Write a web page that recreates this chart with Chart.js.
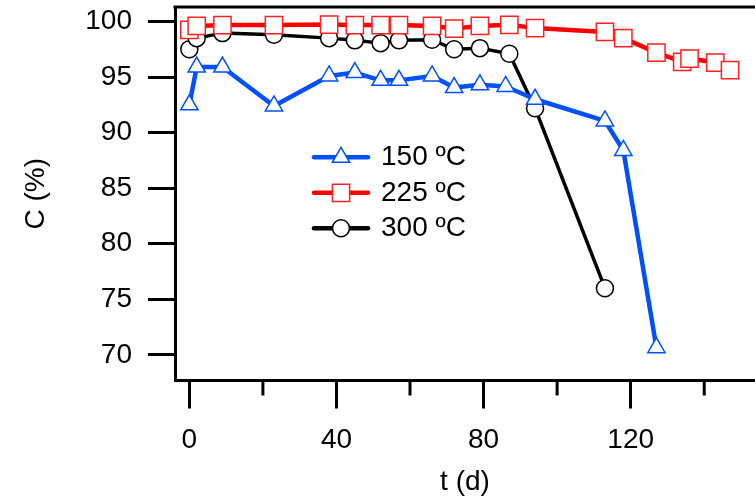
<!DOCTYPE html>
<html>
<head>
<meta charset="utf-8">
<script src="https://cdn.jsdelivr.net/npm/chart.js@4/dist/chart.umd.min.js"></script>
<style>
  html, body { margin: 0; padding: 0; background: #fff; }
</style>
</head>
<body>
<canvas id="convChart" width="755" height="499"></canvas>
<script>
// values
const seriesLabels = ['150 ºC', '225 ºC', '300 ºC'];

const days150 = [0, 2, 9, 23, 38, 45, 52, 57, 66, 72, 79, 86, 94, 113, 118, 127];
const conv150 = [92.5, 95.9, 95.9, 92.4, 95.1, 95.4, 94.7, 94.7, 95.1, 94.05, 94.3, 94.15, 93.0, 91.05, 88.4, 70.65];

const days225 = [0, 2, 9, 23, 38, 45, 52, 57, 66, 72, 79, 87, 94, 113, 118, 127, 134, 136, 143, 147];
const conv225 = [99.25, 99.6, 99.67, 99.67, 99.72, 99.67, 99.67, 99.67, 99.6, 99.36, 99.6, 99.7, 99.4, 99.06, 98.5, 97.2, 96.37, 96.66, 96.3, 95.62];

const days300 = [0, 2, 9, 23, 38, 45, 52, 57, 66, 72, 79, 87, 94, 113];
const conv300 = [97.5, 98.5, 98.95, 98.8, 98.5, 98.3, 98.05, 98.3, 98.35, 97.5, 97.6, 97.1, 92.2, 76.0];

const xTickValues = [0, 40, 80, 120];
const xMinorTicks = [20, 60, 100, 140];
const yTickValues = [70, 75, 80, 85, 90, 95, 100];

const FONT = '"Liberation Sans", Arial, Helvetica, sans-serif';
Chart.defaults.font.family = FONT;
Chart.defaults.font.size = 28;
Chart.defaults.color = '#000';

const toXY = (xs, ys) => xs.map((x, i) => ({ x: x, y: ys[i] }));

// frame top line, minor x ticks, legend inside the plot
const extras = {
  id: 'extras',
  afterDraw(chart) {
    const ctx = chart.ctx;
    const area = chart.chartArea;
    const xs = chart.scales.x;
    ctx.save();
    ctx.strokeStyle = '#000';
    ctx.lineWidth = 3;
    ctx.beginPath();
    ctx.moveTo(area.left - 1.5, area.top);
    ctx.lineTo(area.right, area.top);
    ctx.stroke();
    xMinorTicks.forEach(v => {
      const px = xs.getPixelForValue(v);
      ctx.beginPath();
      ctx.moveTo(px, area.bottom + 1.5);
      ctx.lineTo(px, area.bottom + 15);
      ctx.stroke();
    });

    chart.data.datasets.forEach((ds, i) => {
      const y = 157.3 + i * 35.5;
      ctx.strokeStyle = ds.borderColor;
      ctx.lineWidth = 4.5;
      ctx.lineCap = 'round';
      ctx.beginPath();
      ctx.moveTo(314, y);
      ctx.lineTo(368, y);
      ctx.stroke();
      ctx.fillStyle = '#fff';
      ctx.strokeStyle = ds.pointBorderColor;
      ctx.lineWidth = ds.pointBorderWidth;
      Chart.helpers.drawPoint(ctx, {
        pointStyle: ds.pointStyle, radius: ds.pointRadius, rotation: 0, borderWidth: ds.pointBorderWidth
      }, 341, y);
      ctx.fillStyle = '#000';
      ctx.font = '28px ' + FONT;
      ctx.textBaseline = 'middle';
      ctx.textAlign = 'left';
      ctx.fillText(ds.label, 381, y);
    });
    ctx.restore();
  }
};

new Chart(document.getElementById('convChart'), {
  type: 'line',
  data: {
    datasets: [{
      label: seriesLabels[0],
      data: toXY(days150, conv150),
      borderColor: '#0050ff',
      borderWidth: 4.5,
      pointStyle: 'triangle',
      pointRadius: 10,
      pointBorderColor: '#0050ff',
      pointBackgroundColor: '#fff',
      pointBorderWidth: 1.5
    }, {
      label: seriesLabels[1],
      data: toXY(days225, conv225),
      borderColor: '#ff0000',
      borderWidth: 4.5,
      pointStyle: 'rect',
      pointRadius: 12.2,
      pointBorderColor: '#ff2020',
      pointBackgroundColor: '#fff',
      pointBorderWidth: 1.5
    }, {
      label: seriesLabels[2],
      data: toXY(days300, conv300),
      borderColor: '#000',
      borderWidth: 3.5,
      pointStyle: 'circle',
      pointRadius: 8.5,
      pointBorderColor: '#000',
      pointBackgroundColor: '#fff',
      pointBorderWidth: 1.5
    }]
  },
  options: {
    responsive: false,
    animation: false,
    devicePixelRatio: 1,
    layout: { autoPadding: false, padding: { top: 7, left: 0, right: 0, bottom: 0 } },
    elements: {
      line: { tension: 0, borderJoinStyle: 'round', borderCapStyle: 'round' }
    },
    plugins: { legend: { display: false }, tooltip: { enabled: false } },
    scales: {
      x: {
        type: 'linear',
        min: -3.9,
        max: 153.8,
        afterBuildTicks: s => { s.ticks = xTickValues.map(v => ({ value: v })); },
        afterFit: s => { s.height = 118.5; s.paddingLeft = 0; s.paddingRight = 0; },
        ticks: { padding: 14.7, maxRotation: 0, autoSkip: false, font: { size: 28 } },
        grid: { drawOnChartArea: false, drawTicks: true, tickLength: 28, tickWidth: 3, tickColor: '#000' },
        border: { display: true, color: '#000', width: 3 },
        title: { display: true, text: 't (d)', font: { size: 28 }, padding: { top: 0, bottom: 0 } }
      },
      y: {
        type: 'linear',
        min: 67.7,
        max: 101.3,
        afterBuildTicks: s => { s.ticks = yTickValues.map(v => ({ value: v })); },
        afterFit: s => { s.width = 175; s.paddingTop = 0; s.paddingBottom = 0; },
        ticks: { padding: 16, autoSkip: false, font: { size: 28 } },
        grid: { drawOnChartArea: false, drawTicks: true, tickLength: 27, tickWidth: 3, tickColor: '#000' },
        border: { display: true, color: '#000', width: 3 },
        title: { display: true, text: 'C (%)', font: { size: 28 }, padding: { top: 19.5, bottom: 0 } }
      }
    }
  },
  plugins: [extras]
});
</script>
</body>
</html>
